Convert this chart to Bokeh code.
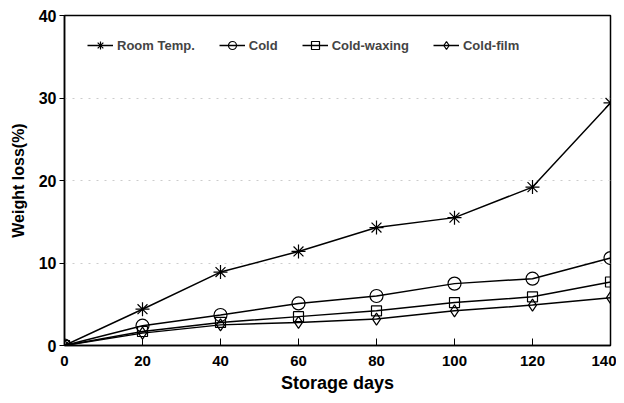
from bokeh.plotting import figure
from bokeh.models import Range1d, FixedTicker, Legend, LegendItem
from bokeh.embed import file_html
from bokeh.resources import INLINE

days = [0, 20, 40, 60, 80, 100, 120, 140]
room_temp = [0, 4.4, 8.9, 11.4, 14.3, 15.5, 19.2, 29.4]
cold = [0, 2.4, 3.7, 5.1, 6.0, 7.5, 8.1, 10.6]
cold_waxing = [0, 1.7, 2.8, 3.5, 4.2, 5.2, 5.9, 7.7]
cold_film = [0, 1.5, 2.5, 2.8, 3.2, 4.2, 4.9, 5.8]
x_ticks = [0, 20, 40, 60, 80, 100, 120, 140]
y_ticks = [0, 10, 20, 30, 40]

FONT = "Liberation Sans"

p = figure(width=616, height=395, output_backend="svg", toolbar_location=None,
           x_range=Range1d(0, 140), y_range=Range1d(0, 40),
           min_border_left=64, min_border_right=6, min_border_top=15, min_border_bottom=48)

p.outline_line_color = "black"
p.outline_line_width = 1.5
p.background_fill_color = "white"

p.xgrid.visible = False
p.ygrid.grid_line_color = "#cccccc"
p.ygrid.grid_line_dash = "2 6"
p.ygrid.grid_line_width = 1

for ax in (p.xaxis[0], p.yaxis[0]):
    ax.axis_line_color = "black"
    ax.axis_line_width = 1.5
    ax.major_label_text_font = FONT
    ax.major_label_text_font_style = "bold"
    ax.major_label_text_font_size = "15px"
    ax.major_label_text_color = "black"
    ax.axis_label_text_font = FONT
    ax.axis_label_text_font_style = "bold"
    ax.axis_label_text_color = "black"
    ax.minor_tick_line_color = None
    ax.major_tick_line_color = "black"

p.yaxis.major_label_text_font_size = "16px"
p.xaxis.ticker = FixedTicker(ticks=x_ticks)
p.yaxis.ticker = FixedTicker(ticks=y_ticks)
p.xaxis.major_tick_in = 7
p.xaxis.major_tick_out = 0
p.yaxis.major_tick_in = 0
p.yaxis.major_tick_out = 5
p.xaxis.major_label_standoff = 10
p.yaxis.major_label_standoff = 3
p.xaxis.axis_label = "Storage days"
p.yaxis.axis_label = "Weight loss(%)"
p.xaxis.axis_label_text_font_size = "18px"
p.yaxis.axis_label_text_font_size = "16px"
p.xaxis.axis_label_standoff = 4
p.yaxis.axis_label_standoff = 9

lw = 1.5
items = []
r1 = p.line(days, room_temp, line_color="black", line_width=lw)
m1 = p.scatter(days, room_temp, marker="asterisk", size=14, line_color="black", line_width=1.2)
items.append(LegendItem(label="Room Temp.", renderers=[r1, m1]))
r2 = p.line(days, cold, line_color="black", line_width=lw)
m2 = p.scatter(days, cold, marker="circle", size=13, line_color="black", fill_alpha=0, line_width=1.2)
items.append(LegendItem(label="Cold", renderers=[r2, m2]))
r3 = p.line(days, cold_waxing, line_color="black", line_width=lw)
m3 = p.scatter(days, cold_waxing, marker="square", size=10, line_color="black", fill_alpha=0, line_width=1.2)
items.append(LegendItem(label="Cold-waxing", renderers=[r3, m3]))
r4 = p.line(days, cold_film, line_color="black", line_width=lw)
m4 = p.scatter(days, cold_film, marker="diamond", size=12, line_color="black", fill_alpha=0, line_width=1.2)
items.append(LegendItem(label="Cold-film", renderers=[r4, m4]))

legend = Legend(items=items, orientation="horizontal", location=(23, 290),
                border_line_color=None, background_fill_alpha=0,
                label_text_font=FONT, label_text_font_style="bold",
                label_text_font_size="13px", glyph_width=26, spacing=24,
                label_standoff=4, padding=0, margin=0)
p.add_layout(legend, "center")

open("out.html", "w").write(file_html(p, INLINE))
